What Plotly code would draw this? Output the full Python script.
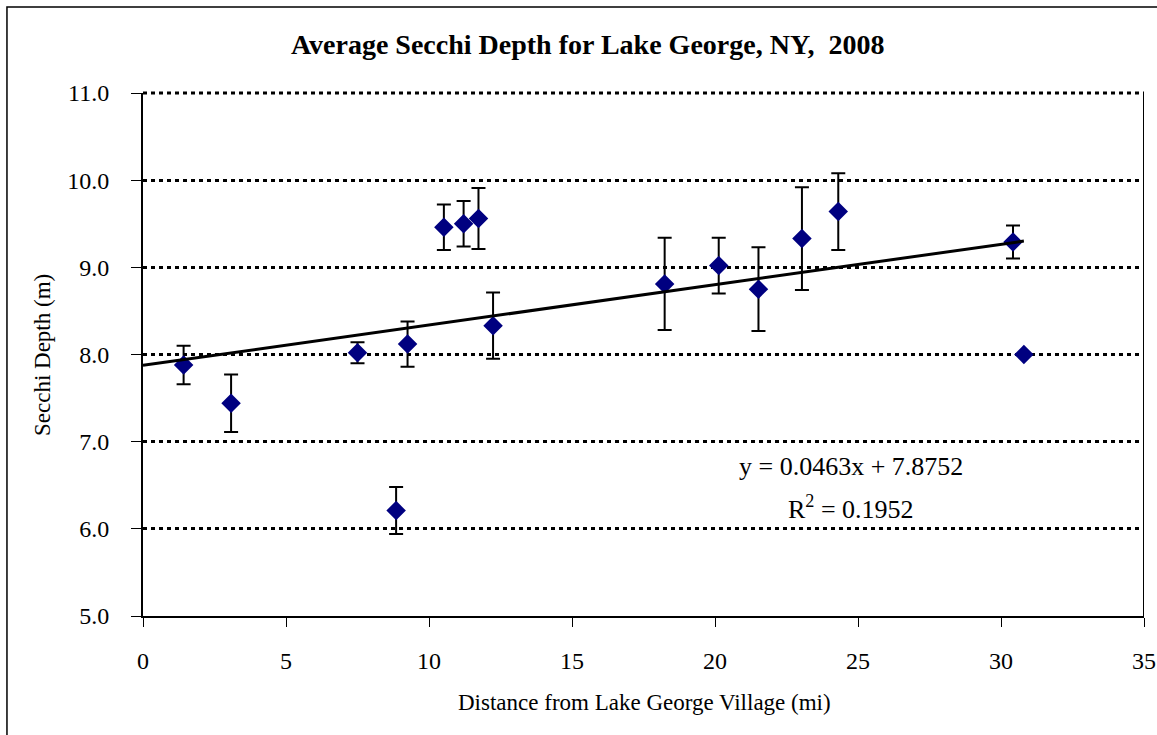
import plotly.graph_objects as go

# Sampling stations: distance from Lake George Village (mi) and mean Secchi depth (m)
distance_mi = [1.42, 3.08, 7.50, 8.85, 9.25, 10.52, 11.21, 11.73, 12.24,
               18.24, 20.13, 21.52, 23.04, 24.31, 30.42, 30.80]
secchi_m = [7.88, 7.44, 8.02, 6.21, 8.12, 9.46, 9.50, 9.56, 8.33,
            8.81, 9.02, 8.75, 9.33, 9.64, 9.29, 8.00]
secchi_sd = [0.22, 0.33, 0.12, 0.27, 0.26, 0.26, 0.26, 0.35, 0.38,
             0.53, 0.32, 0.48, 0.59, 0.44, 0.19, None]

# Linear trendline
slope = 0.0463
intercept = 7.8752
r_squared = 0.1952

x_ticks = [0, 5, 10, 15, 20, 25, 30, 35]
y_ticks = [5.0, 6.0, 7.0, 8.0, 9.0, 10.0, 11.0]

SERIF = "Liberation Serif, Times New Roman, serif"
GRID_DASH = "4px,4px"

fig = go.Figure()

fig.add_trace(go.Scatter(
    x=distance_mi, y=secchi_m, mode="markers",
    marker=dict(symbol="diamond", size=15, color="#000080", line=dict(width=0)),
    error_y=dict(type="data", array=secchi_sd, visible=True,
                 color="black", thickness=2, width=7),
    showlegend=False,
))

trend_x = [0, max(distance_mi)]
trend_y = [slope * v + intercept for v in trend_x]
fig.add_trace(go.Scatter(
    x=trend_x, y=trend_y, mode="lines",
    line=dict(color="black", width=3), showlegend=False,
))

fig.update_layout(
    width=1157, height=735,
    margin=dict(l=143, r=13, t=93, b=119, autoexpand=False),
    paper_bgcolor="white", plot_bgcolor="white",
    font=dict(family=SERIF, color="black"),
    title=dict(text="<b>Average Secchi Depth for Lake George, NY,  2008</b>",
               x=0.508, xanchor="center", y=0.940, yanchor="middle",
               font=dict(size=28, family=SERIF, color="black")),
)

fig.update_xaxes(
    range=[0, 35], tickvals=x_ticks, ticktext=[str(v) for v in x_ticks],
    showgrid=False, zeroline=False, automargin=False,
    showline=True, linecolor="black", linewidth=2,
    ticks="outside", ticklen=9, tickwidth=1, tickcolor="black",
    tickfont=dict(size=24, family=SERIF), ticklabelstandoff=13,
)
fig.update_yaxes(
    range=[5, 11], tickvals=y_ticks, ticktext=[f"{v:.1f}" for v in y_ticks],
    showgrid=True, gridcolor="black", gridwidth=3, griddash=GRID_DASH,
    zeroline=False, automargin=False,
    showline=True, linecolor="black", linewidth=2,
    ticks="outside", ticklen=10, tickwidth=1, tickcolor="black",
    tickfont=dict(size=24, family=SERIF), ticklabelstandoff=17,
)

# Gridline along the top of the value range (paper ref so it is not clipped)
fig.add_shape(type="line", xref="paper", yref="paper", x0=0, x1=1, y0=1, y1=1,
              line=dict(color="black", width=3, dash=GRID_DASH))

# Right edge of the plot area
fig.add_shape(type="line", xref="x", yref="paper", x0=35, x1=35, y0=0, y1=1,
              line=dict(color="black", width=2))

# Outer chart frame
fig.add_shape(type="rect", xref="paper", yref="paper",
              x0=-0.1359, x1=1.2, y0=-0.5, y1=1.1644,
              line=dict(color="black", width=1.5), layer="below")

# Axis titles
fig.add_annotation(text="Distance from Lake George Village (mi)",
                   xref="paper", yref="paper", x=0.5005, y=-0.1663,
                   showarrow=False, xanchor="center", yanchor="middle",
                   font=dict(size=23, family=SERIF))
fig.add_annotation(text="Secchi Depth (m)", textangle=-90,
                   xref="paper", yref="paper", x=-0.1009, y=0.499,
                   showarrow=False, xanchor="center", yanchor="middle",
                   font=dict(size=23, family=SERIF))

# Trendline equation
fig.add_annotation(text=f"y = {slope}x + {intercept}",
                   xref="x", yref="y", x=24.77, y=6.71, showarrow=False,
                   xanchor="center", yanchor="middle",
                   font=dict(size=26, family=SERIF))
fig.add_annotation(text=f"R<sup>2</sup> = {r_squared}",
                   xref="x", yref="y", x=24.77, y=6.24, showarrow=False,
                   xanchor="center", yanchor="middle",
                   font=dict(size=26, family=SERIF))

fig.write_html("out.html")
